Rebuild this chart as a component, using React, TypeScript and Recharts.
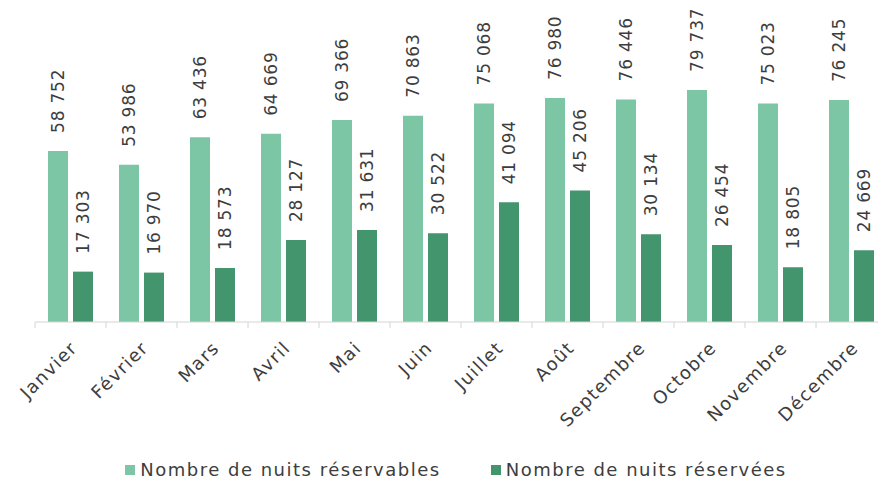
import { Bar, BarChart, LabelList, Legend, XAxis, YAxis } from 'recharts'

const months = ['Janvier', 'Février', 'Mars', 'Avril', 'Mai', 'Juin', 'Juillet', 'Août', 'Septembre', 'Octobre', 'Novembre', 'Décembre']
const reservables = [58752, 53986, 63436, 64669, 69366, 70863, 75068, 76980, 76446, 79737, 75023, 76245]
const reservees = [17303, 16970, 18573, 28127, 31631, 30522, 41094, 45206, 30134, 26454, 18805, 24669]

const LIGHT = '#7cc5a5'
const DARK = '#43956e'
const TEXT = '#3d3d3d'
const FONT = '"DejaVu Sans", sans-serif'

const data = months.map((name, i) => ({ name, reservables: reservables[i], reservees: reservees[i] }))

const fmt = (v: number) => String(v).replace(/\B(?=(\d{3})+(?!\d))/g, ' ')

function VerticalLabel(props: any) {
	const { x, y, width, value } = props
	const cx = x + width / 2
	const ty = y - 18
	return (
		<text
			x={cx}
			y={ty}
			transform={`rotate(-90, ${cx}, ${ty})`}
			textAnchor="start"
			dominantBaseline="central"
			fontSize={17}
			letterSpacing={0.8}
			fontFamily={FONT}
			fill={TEXT}
		>
			{fmt(value)}
		</text>
	)
}

function MonthTick(props: any) {
	const { x, y, payload } = props
	const left = x - payload.offset
	const tx = x + 8
	const ty = y + 27
	return (
		<g>
			<line x1={left} x2={left} y1={y} y2={y + 6} stroke="#d4d4d4" />
			<text
				x={tx}
				y={ty}
				transform={`rotate(-45, ${tx}, ${ty})`}
				textAnchor="end"
				fontSize={18}
				letterSpacing={1.4}
				fontFamily={FONT}
				fill={TEXT}
			>
				{payload.value}
			</text>
		</g>
	)
}

function ChartLegend() {
	const items = [
		{ label: 'Nombre de nuits réservables', color: LIGHT },
		{ label: 'Nombre de nuits réservées', color: DARK },
	]
	return (
		<div style={{ display: 'flex', justifyContent: 'center', gap: 50, fontFamily: FONT, fontSize: 18, letterSpacing: 1.5, color: TEXT, paddingTop: 16 }}>
			{items.map((it) => (
				<div key={it.label} style={{ display: 'flex', alignItems: 'center' }}>
					<span style={{ width: 10, height: 10, background: it.color, marginRight: 5, display: 'inline-block' }} />
					<span>{it.label}</span>
				</div>
			))}
		</div>
	)
}

export default function App() {
	return (
		<div style={{ position: 'absolute', left: 0, top: 0, width: 878, height: 479, overflow: 'hidden', background: '#fff' }}>
			<BarChart
				width={900}
				height={479}
				data={data}
				margin={{ top: 60, right: 13, left: 35, bottom: 0 }}
				barCategoryGap={13}
				barGap={5}
				barSize={20}
			>
				<XAxis
					dataKey="name"
					stroke="#d4d4d4"
					tickLine={false}
					tickSize={0}
					tickMargin={0}
					interval={0}
					height={121}
					tick={<MonthTick />}
				/>
				<YAxis hide domain={[0, 90000]} />
				<Legend verticalAlign="bottom" height={36} content={<ChartLegend />} wrapperStyle={{ left: 0, width: 912 }} />
				<Bar dataKey="reservables" fill={LIGHT} isAnimationActive={false}>
					<LabelList dataKey="reservables" content={<VerticalLabel />} />
				</Bar>
				<Bar dataKey="reservees" fill={DARK} isAnimationActive={false}>
					<LabelList dataKey="reservees" content={<VerticalLabel />} />
				</Bar>
			</BarChart>
		</div>
	)
}
